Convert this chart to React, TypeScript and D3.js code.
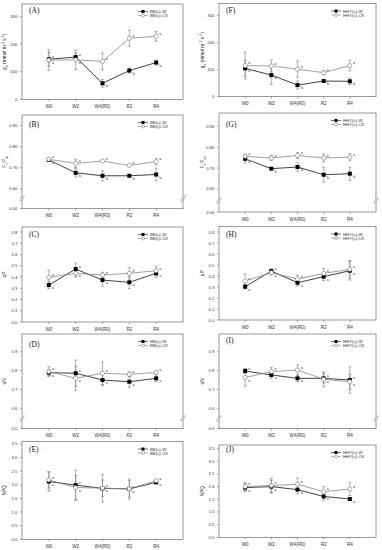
import React from "react";
import * as d3 from "d3";

const categories = ["W0", "W2", "W4(R0)", "R2", "R4"];

// (A) gs BB
const gsBBW = [145, 153, 58, 104, 133];
const gsBBWErr = [25, 15, 14, 9, 9];
const gsBBCK = [142, 143, 137, 221, 228];
const gsBBCKErr = [38, 35, 30, 29, 18];
const gsBBLetW = ["a", "a", "b", "b", "b"];
const gsBBLetCK = ["a", "a", "a", "a", "a"];
// (F) gs HHY
const gsHHW = [105, 80, 43, 58, 57];
const gsHHWErr = [30, 35, 15, 4, 12];
const gsHHCK = [115, 114, 102, 89, 115];
const gsHHCKErr = [50, 22, 30, 8, 20];
const gsHHLetW = ["a", "a", "b", "b", "b"];
const gsHHLetCK = ["a", "a", "a", "a", "a"];
// (B) Fv/Fm BB
const fvBBW = [0.737, 0.676, 0.662, 0.662, 0.668];
const fvBBWErr = [0.005, 0.02, 0.025, 0.005, 0.03];
const fvBBCK = [0.74, 0.721, 0.732, 0.711, 0.729];
const fvBBCKErr = [0.005, 0.02, 0.005, 0.005, 0.015];
const fvBBLetW = ["a", "b", "b", "b", "b"];
const fvBBLetCK = ["a", "a", "a", "a", "a"];
// (G) Fv/Fm HHY
const fvHHW = [0.744, 0.697, 0.705, 0.668, 0.673];
const fvHHWErr = [0.02, 0.005, 0.02, 0.035, 0.032];
const fvHHCK = [0.756, 0.748, 0.76, 0.748, 0.752];
const fvHHCKErr = [0.01, 0.013, 0.015, 0.019, 0.018];
const fvHHLetW = ["a", "b", "b", "b", "b"];
const fvHHLetCK = ["a", "a", "a", "a", "a"];
// (C) qP BB
const qpBBW = [0.329, 0.471, 0.373, 0.353, 0.433];
const qpBBWErr = [0.03, 0.055, 0.055, 0.055, 0.035];
const qpBBCK = [0.397, 0.433, 0.418, 0.433, 0.456];
const qpBBCKErr = [0.065, 0.035, 0.025, 0.05, 0.04];
// (H) qP HHY
const qpHHW = [0.303, 0.445, 0.339, 0.394, 0.448];
const qpHHWErr = [0.02, 0.02, 0.03, 0.035, 0.085];
const qpHHCK = [0.355, 0.43, 0.373, 0.424, 0.46];
const qpHHCKErr = [0.065, 0.02, 0.035, 0.045, 0.08];
// (D) qN BB
const qnBBW = [0.789, 0.786, 0.75, 0.741, 0.759];
const qnBBWErr = [0.015, 0.07, 0.03, 0.03, 0.018];
const qnBBCK = [0.795, 0.759, 0.786, 0.78, 0.79];
const qnBBCKErr = [0.026, 0.065, 0.06, 0.013, 0.008];
// (I) qN HHY
const qnHHW = [0.798, 0.777, 0.759, 0.759, 0.75];
const qnHHWErr = [0.012, 0.018, 0.018, 0.025, 0.07];
const qnHHCK = [0.763, 0.795, 0.803, 0.754, 0.741];
const qnHHCKErr = [0.045, 0.022, 0.028, 0.04, 0.04];
// (E) NPQ BB
const npqBBW = [2.12, 1.99, 1.87, 1.85, 2.09];
const npqBBWErr = [0.35, 0.55, 0.5, 0.37, 0.05];
const npqBBCK = [2.18, 1.9, 1.88, 1.85, 2.15];
const npqBBCKErr = [0.3, 0.45, 0.3, 0.3, 0.05];
// (J) NPQ HHY
const npqHHW = [1.96, 2.0, 1.88, 1.61, 1.51];
const npqHHWErr = [0.15, 0.25, 0.17, 0.15, 0.05];
const npqHHCK = [2.0, 2.04, 2.09, 1.8, 1.9];
const npqHHCKErr = [0.15, 0.28, 0.25, 0.2, 0.25];

const allA = ["a", "a", "a", "a", "a"];

const gsTicks = [0, 100, 200, 300];
const fvTicks = [0.6, 0.7, 0.8, 0.9];
const qpTicks = [0, 0.1, 0.2, 0.3, 0.4, 0.5, 0.6, 0.7, 0.8];
const qnTicks = [0.6, 0.7, 0.8, 0.9];
const npqTicks = [0, 0.5, 1, 1.5, 2, 2.5, 3, 3.5];

const legBB = ["BB(s)-W", "BB(s)-CK"];
const legHH = ["HHY(s)-W", "HHY(s)-CK"];

type Title = "gs" | "fv" | "qP" | "qN" | "NPQ";

interface Panel {
  label: string;
  x0: number; x1: number; top: number; bottom: number;
  domain: [number, number];
  ticks: number[];
  fmt: (v: number) => string;
  brk?: string;
  w: number[]; wErr: number[]; ck: number[]; ckErr: number[];
  letW: string[]; letCK: string[];
  legend: string[];
  title: Title;
  titleX: number;
  labelY: number;
}

const L = { x0: 22, x1: 183, tX: 6 };
const R = { x0: 219, x1: 376, tX: 204 };

const panels: Panel[] = [
  { label: "(A)", x0: L.x0, x1: L.x1, top: 4, bottom: 99.3, domain: [0, 345], ticks: gsTicks, fmt: d3.format("d"),
    w: gsBBW, wErr: gsBBWErr, ck: gsBBCK, ckErr: gsBBCKErr, letW: gsBBLetW, letCK: gsBBLetCK, legend: legBB, title: "gs", titleX: L.tX, labelY: 13 },
  { label: "(B)", x0: L.x0, x1: L.x1, top: 115, bottom: 208.7, domain: [0.506, 0.95], ticks: fvTicks, fmt: d3.format(".2f"), brk: "0.00",
    w: fvBBW, wErr: fvBBWErr, ck: fvBBCK, ckErr: fvBBCKErr, letW: fvBBLetW, letCK: fvBBLetCK, legend: legBB, title: "fv", titleX: L.tX, labelY: 127 },
  { label: "(C)", x0: L.x0, x1: L.x1, top: 227, bottom: 322, domain: [0, 0.845], ticks: qpTicks, fmt: d3.format(".1f"),
    w: qpBBW, wErr: qpBBWErr, ck: qpBBCK, ckErr: qpBBCKErr, letW: allA, letCK: allA, legend: legBB, title: "qP", titleX: L.tX, labelY: 237 },
  { label: "(D)", x0: L.x0, x1: L.x1, top: 334, bottom: 428.7, domain: [0.492, 0.994], ticks: qnTicks, fmt: d3.format(".1f"), brk: "0.0",
    w: qnBBW, wErr: qnBBWErr, ck: qnBBCK, ckErr: qnBBCKErr, letW: allA, letCK: allA, legend: legBB, title: "qN", titleX: L.tX, labelY: 347 },
  { label: "(E)", x0: L.x0, x1: L.x1, top: 441.5, bottom: 539.3, domain: [0, 3.59], ticks: npqTicks, fmt: d3.format(".1f"),
    w: npqBBW, wErr: npqBBWErr, ck: npqBBCK, ckErr: npqBBCKErr, letW: allA, letCK: allA, legend: legBB, title: "NPQ", titleX: L.tX, labelY: 452 },
  { label: "(F)", x0: R.x0, x1: R.x1, top: 3.5, bottom: 96.7, domain: [0, 345], ticks: gsTicks, fmt: d3.format("d"),
    w: gsHHW, wErr: gsHHWErr, ck: gsHHCK, ckErr: gsHHCKErr, letW: gsHHLetW, letCK: gsHHLetCK, legend: legHH, title: "gs", titleX: R.tX, labelY: 13 },
  { label: "(G)", x0: R.x0, x1: R.x1, top: 113, bottom: 212, domain: [0.49, 0.963], ticks: fvTicks, fmt: d3.format(".2f"), brk: "0.00",
    w: fvHHW, wErr: fvHHWErr, ck: fvHHCK, ckErr: fvHHCKErr, letW: fvHHLetW, letCK: fvHHLetCK, legend: legHH, title: "fv", titleX: R.tX, labelY: 127 },
  { label: "(H)", x0: R.x0, x1: R.x1, top: 226.5, bottom: 320, domain: [0, 0.85], ticks: qpTicks, fmt: d3.format(".1f"),
    w: qpHHW, wErr: qpHHWErr, ck: qpHHCK, ckErr: qpHHCKErr, letW: allA, letCK: allA, legend: legHH, title: "qP", titleX: R.tX, labelY: 237 },
  { label: "(I)", x0: R.x0, x1: R.x1, top: 334, bottom: 428.7, domain: [0.492, 0.994], ticks: qnTicks, fmt: d3.format(".1f"), brk: "0.0",
    w: qnHHW, wErr: qnHHWErr, ck: qnHHCK, ckErr: qnHHCKErr, letW: allA, letCK: allA, legend: legHH, title: "qN", titleX: R.tX, labelY: 343 },
  { label: "(J)", x0: R.x0, x1: R.x1, top: 445, bottom: 537.3, domain: [0, 3.64], ticks: npqTicks, fmt: d3.format(".1f"),
    w: npqHHW, wErr: npqHHWErr, ck: npqHHCK, ckErr: npqHHCKErr, letW: allA, letCK: allA, legend: legHH, title: "NPQ", titleX: R.tX, labelY: 452 },
];

const SANS = "Liberation Sans, Arial, sans-serif";
const SERIF = "Liberation Serif, Times New Roman, serif";
const FRAME = "#555";

function TitleText({ kind }: { kind: Title }) {
  const sub = { baselineShift: "sub", fontSize: "75%" } as any;
  const sup = { baselineShift: "super", fontSize: "75%" } as any;
  if (kind === "gs")
    return (
      <>
        <tspan>g</tspan><tspan style={sub}>s</tspan><tspan> (mmol m</tspan><tspan style={sup}>-2</tspan>
        <tspan> s</tspan><tspan style={sup}>-1</tspan><tspan>)</tspan>
      </>
    );
  if (kind === "fv")
    return (
      <>
        <tspan>F</tspan><tspan style={sub}>v</tspan><tspan>/F</tspan><tspan style={sub}>m</tspan>
      </>
    );
  return <tspan>{kind}</tspan>;
}

function PanelView({ p }: { p: Panel }) {
  const x = d3.scaleLinear().domain([-1, 5]).range([p.x0, p.x1]);
  const y = d3.scaleLinear().domain(p.domain).range([p.bottom, p.top]);
  const line = d3.line<number>().x((_, i) => x(i)).y((v) => y(v));
  const midY = (p.top + p.bottom) / 2;
  const brkY = p.brk ? (p.bottom + y(p.ticks[0])) / 2 : 0;
  const cap = 1.6;

  const errBars = (vals: number[], errs: number[], key: string) =>
    vals.map((v, i) => {
      const cx = x(i);
      const yt = y(v + errs[i]);
      const yb = y(v - errs[i]);
      return (
        <g key={key + i} stroke="#666" strokeWidth={0.5}>
          <line x1={cx} x2={cx} y1={yt} y2={yb} />
          <line x1={cx - cap} x2={cx + cap} y1={yt} y2={yt} />
          <line x1={cx - cap} x2={cx + cap} y1={yb} y2={yb} />
        </g>
      );
    });

  const breakMark = (ax: number) => (
    <g>
      <polygon points={`${ax - 2.5},${brkY + 1.2} ${ax + 2.5},${brkY - 3.2} ${ax + 2.5},${brkY - 1.2} ${ax - 2.5},${brkY + 3.2}`} fill="white" />
      <line x1={ax - 2.5} y1={brkY + 1.2} x2={ax + 2.5} y2={brkY - 3.2} stroke={FRAME} strokeWidth={0.5} />
      <line x1={ax - 2.5} y1={brkY + 3.2} x2={ax + 2.5} y2={brkY - 1.2} stroke={FRAME} strokeWidth={0.5} />
    </g>
  );

  const legX = p.x1 - 45;
  return (
    <g>
      <rect x={p.x0} y={p.top} width={p.x1 - p.x0} height={p.bottom - p.top} fill="none" stroke={FRAME} strokeWidth={0.6} />
      {p.brk && breakMark(p.x0)}
      {p.brk && breakMark(p.x1)}
      {/* y ticks */}
      {p.ticks.map((t) => (
        <g key={"yt" + t}>
          <line x1={p.x0 - 2} x2={p.x0} y1={y(t)} y2={y(t)} stroke={FRAME} strokeWidth={0.5} />
          <text x={p.x0 - 4.5} y={y(t) + 1.5} fontSize={4.3} textAnchor="end" fontFamily={SANS} fill="#333">
            {p.fmt(t)}
          </text>
        </g>
      ))}
      {p.brk && (
        <g>
          <line x1={p.x0 - 2} x2={p.x0} y1={p.bottom} y2={p.bottom} stroke={FRAME} strokeWidth={0.5} />
          <text x={p.x0 - 4.5} y={p.bottom + 1.5} fontSize={4.3} textAnchor="end" fontFamily={SANS} fill="#333">
            {p.brk}
          </text>
        </g>
      )}
      {/* x ticks */}
      {categories.map((c, i) => (
        <g key={"xt" + c}>
          <line x1={x(i)} x2={x(i)} y1={p.bottom} y2={p.bottom + 2} stroke={FRAME} strokeWidth={0.5} />
          <text x={x(i)} y={p.bottom + 8.5} fontSize={4.6} textAnchor="middle" fontFamily={SANS} fill="#333">
            {c}
          </text>
        </g>
      ))}
      {/* y title */}
      <text transform={`translate(${p.titleX},${midY}) rotate(-90)`} fontSize={4.8} textAnchor="middle" fontFamily={SANS} fill="#222">
        <TitleText kind={p.title} />
      </text>
      {/* panel label */}
      <text x={p.x0 + 7} y={p.labelY} fontSize={7.5} fontFamily={SERIF} fill="#111">
        {p.label}
      </text>
      {/* error bars */}
      {errBars(p.w, p.wErr, "ew")}
      {errBars(p.ck, p.ckErr, "ec")}
      {/* lines */}
      <path d={line(p.w) || ""} fill="none" stroke="#111" strokeWidth={0.8} />
      <path d={line(p.ck) || ""} fill="none" stroke="#888" strokeWidth={0.8} />
      {/* markers */}
      {p.w.map((v, i) => (
        <rect key={"mw" + i} x={x(i) - 2} y={y(v) - 2} width={4} height={4} fill="#000" />
      ))}
      {p.ck.map((v, i) => (
        <circle key={"mc" + i} cx={x(i)} cy={y(v)} r={2.1} fill="white" stroke="#666" strokeWidth={0.5} />
      ))}
      {/* letters */}
      {categories.map((_, i) => {
        const wHigh = p.w[i] >= p.ck[i];
        const yW = wHigh ? y(p.w[i]) - 1.2 : y(p.w[i]) + 4;
        const yC = wHigh ? y(p.ck[i]) + 4 : y(p.ck[i]) - 1.2;
        return (
          <g key={"lt" + i} fontSize={4.6} fontFamily={SERIF} fill="#333">
            <text x={x(i) + 3.2} y={yW}>{p.letW[i]}</text>
            <text x={x(i) + 3.2} y={yC}>{p.letCK[i]}</text>
          </g>
        );
      })}
      {/* legend */}
      <g>
        <line x1={legX} x2={legX + 10} y1={p.top + 7.5} y2={p.top + 7.5} stroke="#111" strokeWidth={0.6} />
        <rect x={legX + 3.5} y={p.top + 6} width={3} height={3} fill="#000" />
        <text x={legX + 12} y={p.top + 9} fontSize={4.3} fontFamily={SANS} fill="#333">{p.legend[0]}</text>
        <line x1={legX} x2={legX + 10} y1={p.top + 11.5} y2={p.top + 11.5} stroke="#888" strokeWidth={0.6} />
        <circle cx={legX + 5} cy={p.top + 11.5} r={1.5} fill="white" stroke="#666" strokeWidth={0.5} />
        <text x={legX + 12} y={p.top + 13} fontSize={4.3} fontFamily={SANS} fill="#333">{p.legend[1]}</text>
      </g>
    </g>
  );
}

export default function App() {
  return (
    <svg width={382} height={550} style={{ position: "absolute", left: 0, top: 0, background: "white" }}>
      <rect width={382} height={550} fill="white" />
      {panels.map((p) => (
        <PanelView key={p.label} p={p} />
      ))}
    </svg>
  );
}
